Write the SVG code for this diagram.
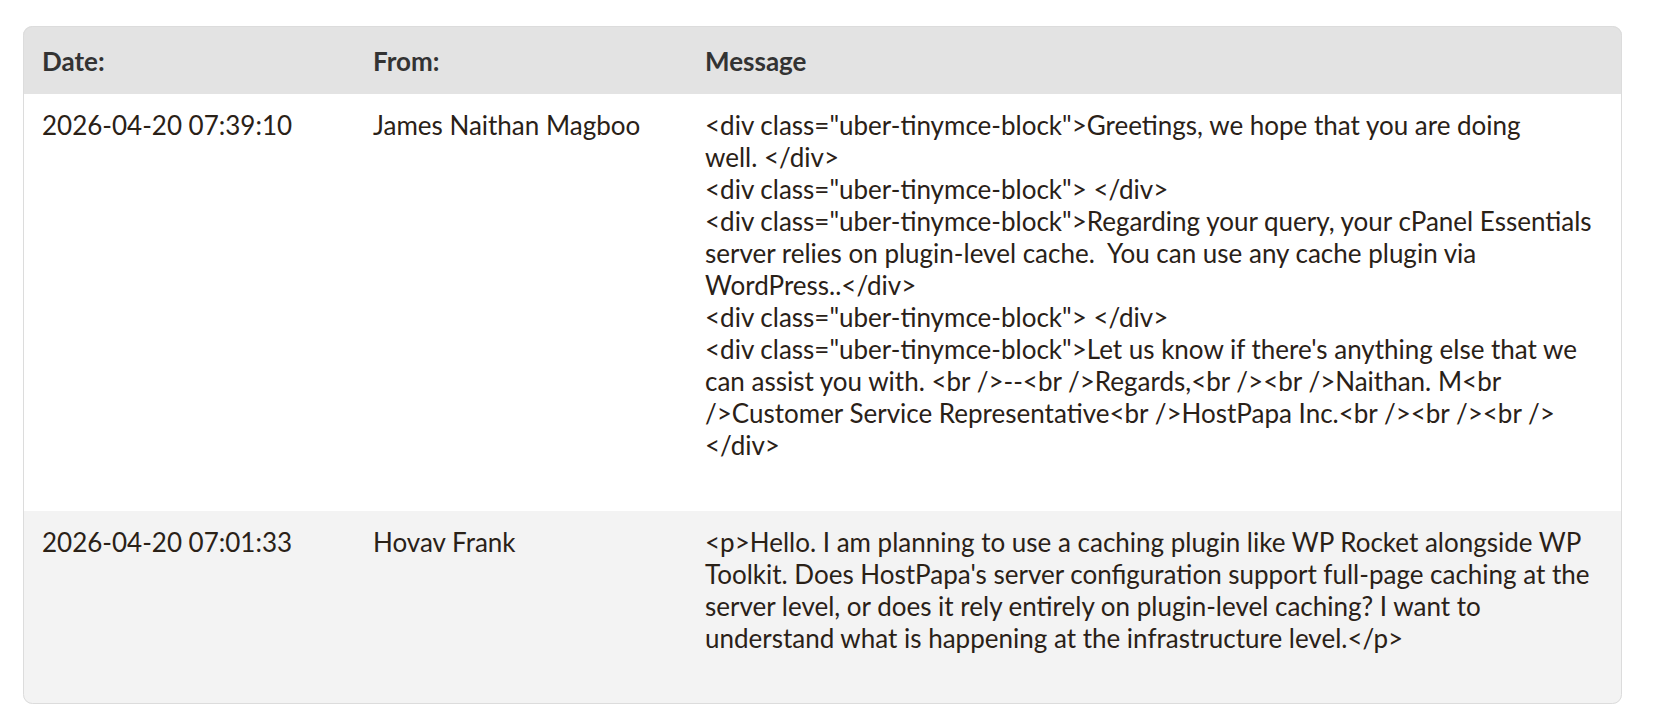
<svg xmlns="http://www.w3.org/2000/svg" width="1654" height="720" viewBox="0 0 1654 720">
<style>
text{font-family:Lato,"Open Sans",sans-serif;font-size:26px;fill:#2a2117;white-space:pre}
.h{font-weight:bold;fill:#333}
</style>
<defs><clipPath id="c"><rect x="23" y="26" width="1599" height="678" rx="9"/></clipPath></defs>
<rect width="1654" height="720" fill="#fff"/>
<g id="table" clip-path="url(#c)">
<rect x="23" y="26" width="1599" height="678" fill="#fff"/>
<rect x="23" y="26" width="1599" height="68" fill="#e3e3e3"/>
<rect x="23" y="511" width="1599" height="193" fill="#f3f3f3"/>
</g>
<rect x="23.5" y="26.5" width="1598" height="677" rx="9" fill="none" stroke="#dcdcdc"/>
<g id="header">
<text class="h" x="42" y="71">Date:</text>
<text class="h" x="373" y="71">From:</text>
<text class="h" x="705" y="71">Message</text>
</g>
<g id="row1">
<text x="42" y="135">2026-04-20 07:39:10</text>
<text x="373" y="135">James Naithan Magboo</text>
<text x="705" y="135"><tspan x="705">&lt;div class="uber-tinymce-block"&gt;Greetings, we hope that you are doing</tspan><tspan x="705" dy="32">well. &lt;/div&gt;</tspan><tspan x="705" dy="32">&lt;div class="uber-tinymce-block"&gt; &lt;/div&gt;</tspan><tspan x="705" dy="32">&lt;div class="uber-tinymce-block"&gt;Regarding your query, your cPanel Essentials</tspan><tspan x="705" dy="32">server relies on plugin-level cache.  You can use any cache plugin via</tspan><tspan x="705" dy="32">WordPress..&lt;/div&gt;</tspan><tspan x="705" dy="32">&lt;div class="uber-tinymce-block"&gt; &lt;/div&gt;</tspan><tspan x="705" dy="32">&lt;div class="uber-tinymce-block"&gt;Let us know if there's anything else that we</tspan><tspan x="705" dy="32">can assist you with. &lt;br /&gt;--&lt;br /&gt;Regards,&lt;br /&gt;&lt;br /&gt;Naithan. M&lt;br</tspan><tspan x="705" dy="32">/&gt;Customer Service Representative&lt;br /&gt;HostPapa Inc.&lt;br /&gt;&lt;br /&gt;&lt;br /&gt;</tspan><tspan x="705" dy="32">&lt;/div&gt;</tspan></text>
</g>
<g id="row2">
<text x="42" y="552">2026-04-20 07:01:33</text>
<text x="373" y="552">Hovav Frank</text>
<text x="705" y="552"><tspan x="705">&lt;p&gt;Hello. I am planning to use a caching plugin like WP Rocket alongside WP</tspan><tspan x="705" dy="32">Toolkit. Does HostPapa's server configuration support full-page caching at the</tspan><tspan x="705" dy="32">server level, or does it rely entirely on plugin-level caching? I want to</tspan><tspan x="705" dy="32">understand what is happening at the infrastructure level.&lt;/p&gt;</tspan></text>
</g>
</svg>
